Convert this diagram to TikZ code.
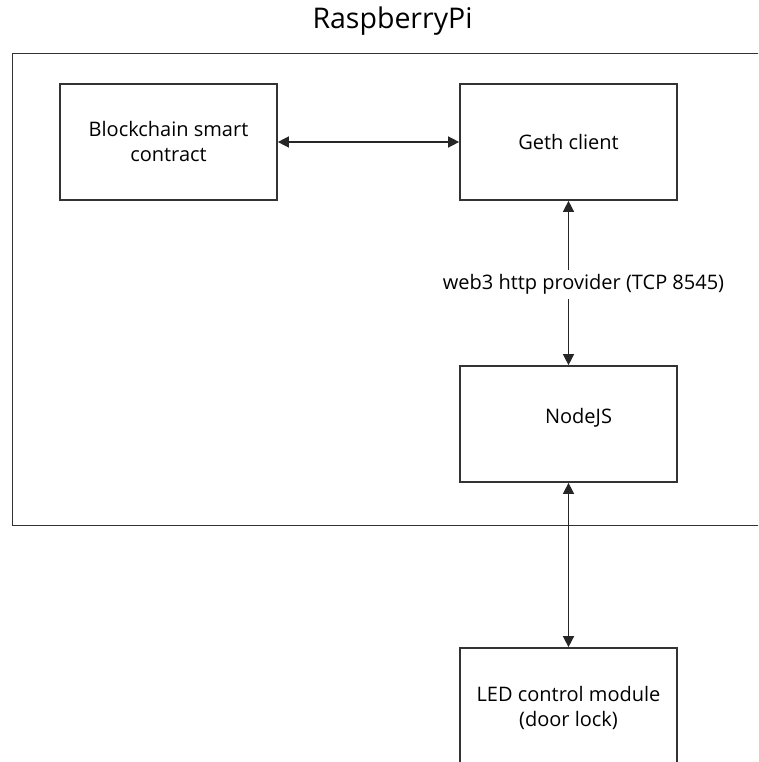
\documentclass[tikz,border=0pt]{standalone}
\usepackage{fontspec}
\setmainfont{Open Sans}
\usetikzlibrary{arrows.meta}
\begin{document}
\begin{tikzpicture}[x=1pt,y=-1pt,
  every node/.style={font=\fontsize{20}{25}\selectfont, text=black},
  box/.style={draw=black!80, line width=1.7pt, minimum width=217pt, minimum height=116pt, inner sep=0pt, align=center},
  conn/.style={draw=black!85, line width=1.4pt, {Triangle[length=11pt,width=11pt]}-{Triangle[length=11pt,width=11pt]}}
]
\useasboundingbox (0,0) rectangle (758,762);
\clip (0,0) rectangle (758,762);
\node[font=\fontsize{28.5}{32}\selectfont] (title) at (392.5,21) {RaspberryPi};
\draw[draw=black!80, line width=1.7pt] (770,53.5) -- (12.5,53.5) -- (12.5,525.5) -- (770,525.5);
\node[box] (bc) at (168.5,142) {Blockchain smart\\contract};
\node[box] (geth) at (568.5,142) {Geth client};
\node[box, label={[xshift=10pt,yshift=6pt]center:NodeJS}] (nodejs) at (568.5,424) {};
\node[box, minimum height=120pt] (led) at (568.5,708) {LED control module\\(door lock)};
\draw[conn] (bc.east) -- (geth.west);
\draw[conn] (geth.south) -- (nodejs.north);
\node[fill=white, inner sep=1pt, minimum height=29pt] (web3) at (583.5,284) {web3 http provider (TCP 8545)};
\draw[conn] (nodejs.south) -- (led.north);
\end{tikzpicture}
\end{document}
